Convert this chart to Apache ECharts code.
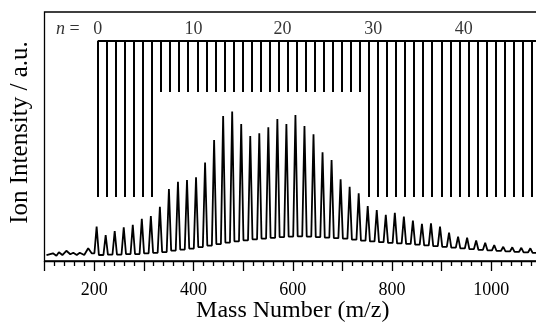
<!DOCTYPE html>
<html>
<head>
<meta charset="utf-8">
<script src="https://cdn.jsdelivr.net/npm/echarts@6/dist/echarts.min.js"></script>
<style>
  html, body { margin: 0; padding: 0; background: #fff; overflow: hidden; }
  /* plot frame runs a few px past the right edge of the window, as in the figure */
  #main { width: 541px; height: 322px; }
</style>
</head>
<body>
<div id="main"></div>
<script>
// low mass noise before the first cluster peak
var lowMass = [104, 117, 124, 129, 136, 144, 152, 158, 165, 171, 180, 188, 195];
var lowInt  = [2.4, 3.1, 2.1, 3.5, 2.4, 4.1, 2.7, 3.3, 2.4, 3.3, 2.4, 5.1, 3.1];

// cluster peaks n = 0..49
var peakMass = [205, 223.2, 241.4, 259.6, 277.8, 296, 314.2, 332.4, 350.6, 368.8,
  387, 405.2, 423.4, 441.6, 459.8, 478, 496.2, 514.4, 532.6, 550.8,
  569, 587.2, 605.4, 623.6, 641.8, 660, 678.2, 696.4, 714.6, 732.8,
  751, 769.2, 787.4, 805.6, 823.8, 842, 860.2, 878.4, 896.6, 914.8,
  933, 951.2, 969.4, 987.6, 1005.8, 1024, 1042.2, 1060.4, 1078.6, 1096.8];
var peakInt = [13.8, 10.4, 12.0, 13.5, 14.5, 16.9, 18.1, 21.8, 28.9, 31.8,
  32.5, 33.6, 39.5, 48.6, 58.2, 60.0, 55.0, 50.2, 51.3, 53.7,
  57.0, 55.0, 58.6, 54.2, 50.9, 43.7, 40.6, 32.8, 29.8, 27.2,
  22.1, 20.5, 18.5, 19.4, 17.8, 16.2, 14.9, 15.1, 13.8, 11.4,
  9.8, 9.4, 8.2, 7.3, 6.4, 5.7, 5.5, 5.3, 5.1, 4.4];
var valleyInt = [2.4, 2.6, 2.6, 2.8, 2.8, 3.1, 3.3, 3.6, 4.2, 4.6,
  5.0, 5.6, 6.2, 6.8, 7.4, 7.9, 8.3, 8.7, 9.0, 9.3,
  9.6, 9.8, 9.9, 9.8, 9.6, 9.4, 9.2, 9.0, 8.6, 8.2,
  7.9, 7.6, 7.3, 7.1, 6.9, 6.6, 6.3, 6.0, 5.7, 5.4,
  5.1, 4.8, 4.5, 4.3, 4.1, 3.9, 3.7, 3.5, 3.3, 3.1];

// assignment comb, 1 = long line, 0 = short line
var combMass = [207.5, 225.7, 243.9, 262.1, 280.3, 298.5, 316.7, 334.9, 353.1, 371.3,
  389.5, 407.7, 425.9, 444.1, 462.3, 480.5, 498.7, 516.9, 535.1, 553.3,
  571.5, 589.7, 607.9, 626.1, 644.3, 662.5, 680.7, 698.9, 717.1, 735.3,
  753.5, 771.7, 789.9, 808.1, 826.3, 844.5, 862.7, 880.9, 899.1, 917.3,
  935.5, 953.7, 971.9, 990.1, 1008.3, 1026.5, 1044.7, 1062.9, 1081.1];
var combLong = [1, 1, 1, 1, 1, 1, 1, 0, 0, 0,
  0, 0, 0, 0, 0, 0, 0, 0, 0, 0,
  0, 0, 0, 0, 0, 0, 0, 0, 0, 0,
  1, 1, 1, 1, 1, 1, 1, 1, 1, 1,
  1, 1, 1, 1, 1, 1, 1, 1, 1];

var nLabelText = ['{i|n} =', '0', '10', '20', '30', '40'];
var nLabelMass = [147, 207.5, 400, 579.5, 762, 944.5];

var COMB_TOP = 88.5, COMB_LONG = 25.7, COMB_SHORT = 67.9, LABEL_Y = 93;
var FONT = 'Liberation Serif';

var trace = [];
lowMass.forEach(function(m, i){ trace.push([m, lowInt[i]]); });
peakMass.forEach(function(m, i){
  var vPrev = i ? valleyInt[i-1] : lowInt[lowInt.length-1];
  trace.push([m - 4.5, vPrev]);
  trace.push([m, peakInt[i]]);
  trace.push([m + 4.5, valleyInt[i]]);
});

var combLines = [[{coord: [combMass[0], COMB_TOP]}, {coord: [1100, COMB_TOP]}]];
combMass.forEach(function(m, i){
  combLines.push([{coord: [m, COMB_TOP]}, {coord: [m, combLong[i] ? COMB_LONG : COMB_SHORT]}]);
});

var labelData = nLabelMass.map(function(m, i){
  return {value: [m, LABEL_Y], name: nLabelText[i]};
});

var chart = echarts.init(document.getElementById('main'), null, {renderer: 'canvas'});
chart.setOption({
  animation: false,
  backgroundColor: '#fff',
  grid: {
    left: 44.5, right: 0, top: 12, bottom: 61,
    outerBoundsMode: 'none',
    containLabel: false,
    show: true, borderColor: '#000', borderWidth: 1.3, backgroundColor: 'transparent'
  },
  xAxis: {
    type: 'value',
    min: 100, max: 1100, interval: 100,
    name: 'Mass Number (m/z)',
    nameLocation: 'middle',
    nameGap: 38,
    nameMoveOverlap: false,
    nameTextStyle: {fontFamily: FONT, fontSize: 24, color: '#000'},
    axisLine: {show: true, lineStyle: {color: '#000', width: 1.3}},
    axisTick: {show: true, length: 10, lineStyle: {color: '#000', width: 1.3}},
    minorTick: {show: true, splitNumber: 5, length: 5, lineStyle: {color: '#000', width: 1.3}},
    splitLine: {show: false},
    minorSplitLine: {show: false},
    axisLabel: {
      fontFamily: FONT, fontSize: 18, color: '#000', margin: 20,
      formatter: function(v){ return (v % 200 === 0 && v > 100 && v < 1100) ? String(v) : ''; }
    }
  },
  yAxis: {
    type: 'value',
    min: 0, max: 100,
    name: 'Ion Intensity / a.u.',
    nameLocation: 'middle',
    nameGap: 12,
    nameMoveOverlap: false,
    nameTextStyle: {fontFamily: FONT, fontSize: 25, color: '#000', padding: [0, 0, 0, 8]},
    axisLine: {show: false},
    axisTick: {show: false},
    axisLabel: {show: false},
    splitLine: {show: false}
  },
  series: [
    {
      name: 'spectrum',
      type: 'line',
      data: trace,
      showSymbol: false,
      symbol: 'none',
      lineStyle: {color: '#000', width: 1.8},
      silent: true,
      clip: true,
      markLine: {
        silent: true,
        symbol: ['none', 'none'],
        label: {show: false},
        lineStyle: {color: '#000', width: 2, type: 'solid'},
        data: combLines
      }
    },
    {
      name: 'n labels',
      type: 'scatter',
      data: labelData,
      symbolSize: 0,
      silent: true,
      label: {
        show: true,
        position: 'inside',
        formatter: function(p){ return p.name; },
        fontFamily: FONT, fontSize: 18, color: '#000',
        rich: {i: {fontFamily: FONT, fontSize: 18, fontStyle: 'italic', color: '#000'}}
      }
    }
  ]
});
</script>
</body>
</html>
